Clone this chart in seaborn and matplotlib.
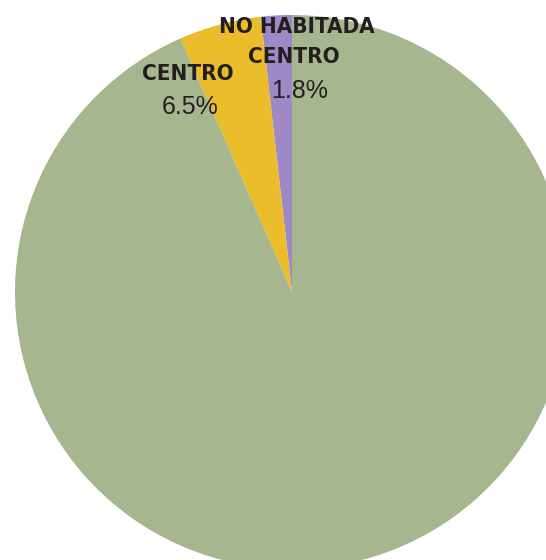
import matplotlib
matplotlib.use('Agg')
import matplotlib.pyplot as plt
import seaborn as sns

# ============================
# Data
# ============================
categories = ['NO HABITADA\nCENTRO', 'CENTRO', 'RESTO']
# wedge shares as drawn in the reference
shares = [1.8, 4.8, 93.4]
pct_labels = ['1.8%', '6.5%', '']
colors = ['#9f88c6', '#ebbd2b', '#a6b68f']

sns.set_theme(style='white')
plt.rcParams['font.family'] = ['Liberation Sans', 'DejaVu Sans']

# ============================
# Pie
# ============================
fig = plt.figure(figsize=(5.46, 5.6), dpi=100)
ax = fig.add_axes([0, 0, 1, 1])
ax.pie(shares, colors=colors, startangle=90, counterclock=True,
       radius=1, center=(0, 0), wedgeprops=dict(linewidth=0))
ax.set_aspect('auto')
ax.set_xlim(-292 / 277, (546 - 292) / 277)
ax.set_ylim((292 - 560) / 277, 292 / 277)
ax.axis('off')

# ============================
# Labels
# ============================
dark = '#231f20'
bold_font = dict(family='DejaVu Sans', fontstretch='condensed', fontweight='bold',
                 fontsize=16, color=dark, ha='center', va='center')
reg_font = dict(family=['Liberation Sans', 'DejaVu Sans'], fontsize=18,
                color=dark, ha='center', va='center')

# pixel positions -> axes fraction
def px(x, y):
    return x / 546, 1 - y / 560

name_lines = categories[0].split('\n')
ax.text(*px(297, 27), name_lines[0], transform=ax.transAxes, **bold_font)
ax.text(*px(294, 57), name_lines[1], transform=ax.transAxes, **bold_font)
ax.text(*px(300, 91), pct_labels[0], transform=ax.transAxes, **reg_font)

ax.text(*px(188, 74), categories[1], transform=ax.transAxes, **bold_font)
ax.text(*px(190, 107), pct_labels[1], transform=ax.transAxes, **reg_font)

plt.savefig('out.png', dpi=100, facecolor='white')
